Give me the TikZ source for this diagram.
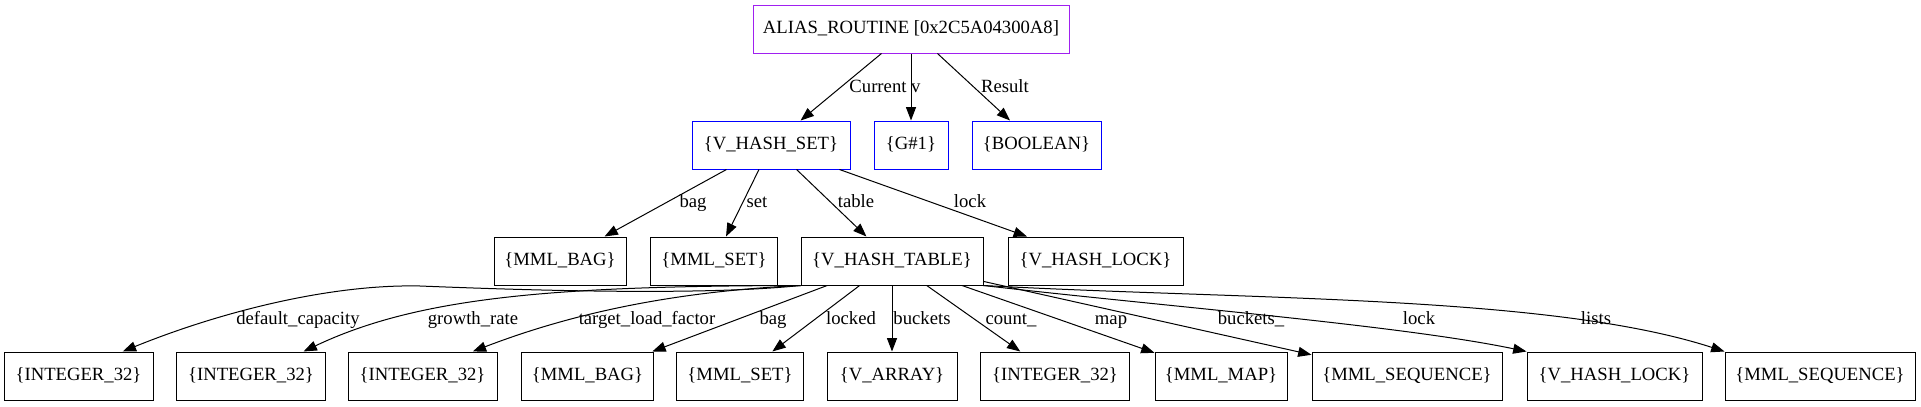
\documentclass[tikz,border=0pt]{standalone}
\usepackage{fontspec}
\setmainfont{Liberation Serif}
\usepackage{xcolor}
\usetikzlibrary{arrows.meta}

\definecolor{gvpurple}{HTML}{A020F0}

\begin{document}
\begin{tikzpicture}[
        x=0.75pt, y=-0.75pt,
        font=\fontsize{14}{16.8}\selectfont,
        box/.style={rectangle, draw, line width=0.75pt, minimum height=36pt,
                    inner xsep=2pt, text height=9.5pt, text depth=3pt},
        root/.style={box, draw=gvpurple},
        attr/.style={box, draw=blue},
        lbl/.style={inner sep=0pt, text height=9.5pt, text depth=3pt},
        arr/.style={-{Triangle[length=10pt, width=7.5pt]}, line width=0.75pt},
    ]
        \useasboundingbox (0,0) rectangle (1921,407);

        % Routine
        \node[root, minimum width=237pt] (alias) at (911,29) {ALIAS\_ROUTINE [0x2C5A04300A8]};

        % Routine attributes
        \node[attr, minimum width=118.5pt] (vhs) at (771,145) {\{V\_HASH\_SET\}};
        \node[attr, minimum width=55.5pt] (g1) at (911,145) {\{G\#1\}};
        \node[attr, minimum width=96.75pt] (bool) at (1036.5,145) {\{BOOLEAN\}};

        % V_HASH_SET fields
        \node[box, minimum width=99pt] (bag) at (560,261) {\{MML\_BAG\}};
        \node[box, minimum width=95.25pt] (set) at (714,261) {\{MML\_SET\}};
        \node[box, minimum width=136.5pt] (vht) at (892,261) {\{V\_HASH\_TABLE\}};
        \node[box, minimum width=131.25pt] (vhl) at (1095.5,261) {\{V\_HASH\_LOCK\}};

        % V_HASH_TABLE fields
        \node[box, minimum width=111.75pt] (int1) at (78.5,376) {\{INTEGER\_32\}};
        \node[box, minimum width=111.75pt] (int2) at (251,376) {\{INTEGER\_32\}};
        \node[box, minimum width=111.75pt] (int3) at (422.5,376) {\{INTEGER\_32\}};
        \node[box, minimum width=99pt] (tbag) at (587.5,376) {\{MML\_BAG\}};
        \node[box, minimum width=95.25pt] (tset) at (740,376) {\{MML\_SET\}};
        \node[box, minimum width=97.5pt] (varr) at (892,376) {\{V\_ARRAY\}};
        \node[box, minimum width=111.75pt] (int4) at (1055,376) {\{INTEGER\_32\}};
        \node[box, minimum width=99pt] (map) at (1221,376) {\{MML\_MAP\}};
        \node[box, minimum width=142.5pt] (seq1) at (1407,376) {\{MML\_SEQUENCE\}};
        \node[box, minimum width=131.25pt] (tvhl) at (1614.5,376) {\{V\_HASH\_LOCK\}};
        \node[box, minimum width=142.5pt] (seq2) at (1820,376) {\{MML\_SEQUENCE\}};

        % Arrows routine
        \draw[arr] (alias) -- (vhs);
        \draw[arr] (alias) -- (g1);
        \draw[arr] (alias) -- (bool);

        % Arrows set
        \draw[arr] (vhs) -- (bag);
        \draw[arr] (vhs) -- (set);
        \draw[arr] (vhs) -- (vht);
        \draw[arr] (vhs) -- (vhl);

        % Arrows table
        \draw[arr] (vht.south west) .. controls (700,296) and (520,290) .. (420,286)
                   .. controls (330,284) and (220,312) .. (int1.29);
        \draw[arr] (vht.south west) .. controls (560,286) and (420,296) .. (int2.25);
        \draw[arr] (vht.south west) .. controls (660,292) and (560,318) .. (int3.26);
        \draw[arr] (vht) -- (tbag);
        \draw[arr] (vht) -- (tset);
        \draw[arr] (vht) -- (varr);
        \draw[arr] (vht) -- (int4);
        \draw[arr] (vht) -- (map);
        \draw[arr] (vht) -- (seq1);
        \draw[arr] (vht.south east) .. controls (1150,305) and (1400,325) .. (tvhl.north west);
        \draw[arr] (vht.south east) .. controls (1250,300) and (1550,295) .. (seq2.north west);

        % Labels
        \node[lbl] (l-cur) at (885,88) {Current v};
        \node[lbl] (l-res) at (1005,88) {Result};
        \node[lbl] (l-bag) at (693,203) {bag};
        \node[lbl] (l-set) at (757,203) {set};
        \node[lbl] (l-table) at (856,203) {table};
        \node[lbl] (l-lock) at (970,203) {lock};
        \node[lbl] (l-cap) at (298,320) {default\_capacity};
        \node[lbl] (l-growth) at (473,320) {growth\_rate};
        \node[lbl] (l-load) at (647,320) {target\_load\_factor};
        \node[lbl] (l-tbag) at (773,320) {bag};
        \node[lbl] (l-locked) at (851,320) {locked};
        \node[lbl] (l-buckets) at (922,320) {buckets};
        \node[lbl] (l-count) at (1011,320) {count\_};
        \node[lbl] (l-map) at (1111,320) {map};
        \node[lbl] (l-bucketsu) at (1251,320) {buckets\_};
        \node[lbl] (l-tlock) at (1419,320) {lock};
        \node[lbl] (l-lists) at (1596,320) {lists};
    \end{tikzpicture}
\end{document}
